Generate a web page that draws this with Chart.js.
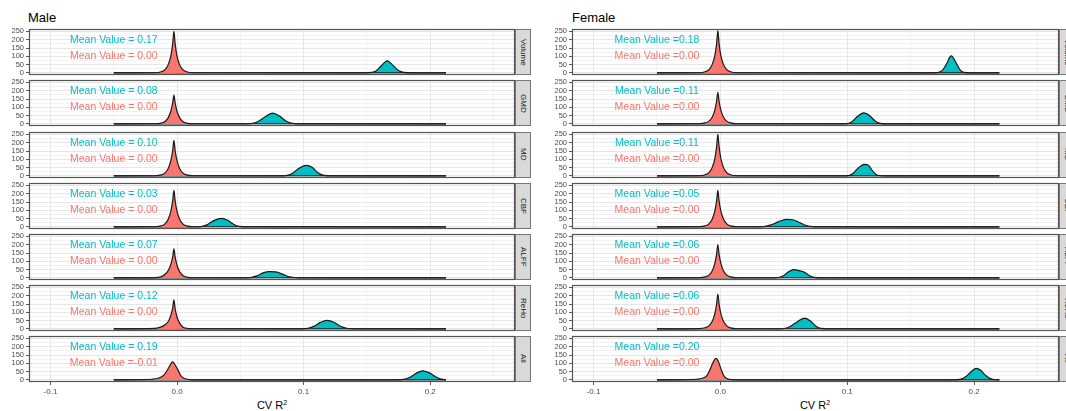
<!DOCTYPE html>
<html>
<head>
<meta charset="utf-8">
<script src="https://cdn.jsdelivr.net/npm/chart.js@4.4.1/dist/chart.umd.min.js"></script>
<style>
body { margin: 0; width: 1066px; height: 411px; overflow: hidden; background: #fff; position: relative;
       font-family: 'Liberation Sans', Arial, sans-serif; }
canvas { position: absolute; }
.title { position: absolute; font-size: 13px; line-height: 13px; color: #000; }
.strip { position: absolute; box-sizing: border-box; background: #d9d9d9; border: 1px solid #777;
         display: flex; align-items: center; justify-content: center; }
.strip span { writing-mode: vertical-rl; font-size: 8px; color: #1a1a1a; }
.xtitle { position: absolute; font-size: 11px; line-height: 11px; color: #000; transform: translateX(-50%); white-space: nowrap; }
.xtitle sup { font-size: 7px; vertical-align: 4px; line-height: 0; }
</style>
</head>
<body>
<div class="title" style="left:28px;top:11px">Male</div>
<div class="title" style="left:572px;top:11px">Female</div>
<div class="xtitle" style="left:272px;top:400px">CV R<sup>2</sup></div>
<div class="xtitle" style="left:815px;top:400px">CV R<sup>2</sup></div>
<script>
// facets and labels
const facetNames = ['Volume', 'GMD', 'MD', 'CBF', 'ALFF', 'ReHo', 'All'];
const maleRealText = ['Mean Value = 0.17', 'Mean Value = 0.08', 'Mean Value = 0.10', 'Mean Value = 0.03',
                      'Mean Value = 0.07', 'Mean Value = 0.12', 'Mean Value = 0.19'];
const maleNullText = ['Mean Value = 0.00', 'Mean Value = 0.00', 'Mean Value = 0.00', 'Mean Value = 0.00',
                      'Mean Value = 0.00', 'Mean Value = 0.00', 'Mean Value =-0.01'];
const femaleRealText = ['Mean Value =0.18', 'Mean Value =0.11', 'Mean Value =0.11', 'Mean Value =0.05',
                        'Mean Value =0.06', 'Mean Value =0.06', 'Mean Value =0.20'];
const femaleNullText = ['Mean Value =0.00', 'Mean Value =0.00', 'Mean Value =0.00', 'Mean Value =0.00',
                        'Mean Value =0.00', 'Mean Value =0.00', 'Mean Value =0.00'];

// axes
const xRange = [-0.117, 0.267];
const yRange = [-12.6, 264.6];
const xTicks = [-0.1, -0.05, 0, 0.05, 0.1, 0.15, 0.2, 0.25];
const xLabels = ['-0.1', '', '0.0', '', '0.1', '', '0.2', ''];
const yTicks = [0, 25, 50, 75, 100, 125, 150, 175, 200, 225, 250];
const yLabels = ['0', '', '50', '', '100', '', '150', '', '200', '', '250'];
const labelX = -0.05;
const labelY = [195, 100];

// density support (where the curves sit on zero)
const maleSpan = [-0.05, 0.2125];
const femaleSpan = [-0.05, 0.22];

// null (permutation) densities, male
const maleNull = [
  [[-0.0175,1],[-0.0125,7],[-0.0095,20],[-0.007,50],[-0.005,100],[-0.0035,175],[-0.0025,250],[-0.0015,175],[0,100],[0.002,50],[0.0045,20],[0.0075,7],[0.0125,1]],
  [[-0.0175,1],[-0.0125,5],[-0.0095,15],[-0.007,38],[-0.005,75],[-0.0035,125],[-0.0025,173],[-0.0015,125],[0,75],[0.002,38],[0.0045,15],[0.0075,5],[0.0125,1]],
  [[-0.0175,1],[-0.0125,6],[-0.0095,18],[-0.007,45],[-0.005,90],[-0.0035,150],[-0.0025,215],[-0.0015,150],[0,90],[0.002,45],[0.0045,18],[0.0075,6],[0.0125,1]],
  [[-0.0175,1],[-0.0125,6],[-0.0095,18],[-0.007,46],[-0.005,92],[-0.0035,155],[-0.0025,220],[-0.0015,155],[0,92],[0.002,46],[0.0045,18],[0.0075,6],[0.0125,1]],
  [[-0.0175,2],[-0.0125,8],[-0.0095,22],[-0.007,45],[-0.005,80],[-0.0035,125],[-0.0025,175],[-0.0015,125],[0,75],[0.002,38],[0.0045,15],[0.0075,5],[0.0125,1]],
  [[-0.0175,3],[-0.0125,12],[-0.0095,25],[-0.007,45],[-0.005,80],[-0.0035,125],[-0.0025,175],[-0.0015,120],[0,70],[0.002,35],[0.0045,12],[0.0075,4],[0.0125,1]],
  [[-0.03,1],[-0.02,4],[-0.015,10],[-0.011,25],[-0.008,55],[-0.0055,90],[-0.0035,109],[-0.0015,90],[0.001,55],[0.003,25],[0.006,8],[0.01,2],[0.016,0.5]]
];
// observed densities, male
const maleReal = [
  [[0.145,0],[0.152,2],[0.157,12],[0.161,40],[0.166,73],[0.171,42],[0.175,14],[0.179,3],[0.186,0]],
  [[0.05,0],[0.058,2],[0.064,15],[0.07,45],[0.0755,65],[0.081,47],[0.086,17],[0.091,3],[0.1,0]],
  [[0.08,0],[0.086,2],[0.091,15],[0.096,45],[0.102,64],[0.107,50],[0.111,20],[0.116,3],[0.123,0]],
  [[0.012,0],[0.019,2],[0.024,14],[0.029,38],[0.035,52],[0.04,40],[0.045,14],[0.049,3],[0.056,0]],
  [[0.05,0],[0.058,2],[0.063,12],[0.068,30],[0.073,38],[0.078,36],[0.084,20],[0.089,6],[0.094,1],[0.1,0]],
  [[0.095,0],[0.102,2],[0.108,15],[0.113,38],[0.1185,52],[0.124,40],[0.129,16],[0.134,4],[0.14,0]],
  [[0.172,0],[0.178,2],[0.184,16],[0.189,40],[0.194,55],[0.199,44],[0.204,20],[0.208,6],[0.211,2]]
];
// null densities, female
const femaleNull = [
  [[-0.017,1],[-0.012,7],[-0.009,20],[-0.0065,50],[-0.0045,100],[-0.003,175],[-0.002,255],[-0.001,175],[0.0005,100],[0.0025,50],[0.005,20],[0.008,7],[0.013,1]],
  [[-0.017,1],[-0.012,6],[-0.009,17],[-0.0065,40],[-0.0045,80],[-0.003,135],[-0.002,190],[-0.001,135],[0.0005,80],[0.0025,40],[0.005,17],[0.008,6],[0.013,1]],
  [[-0.017,1],[-0.012,7],[-0.009,20],[-0.0065,50],[-0.0045,100],[-0.003,175],[-0.002,250],[-0.001,175],[0.0005,100],[0.0025,50],[0.005,20],[0.008,7],[0.013,1]],
  [[-0.017,1],[-0.012,6],[-0.009,18],[-0.0065,46],[-0.0045,92],[-0.003,155],[-0.002,220],[-0.001,155],[0.0005,92],[0.0025,46],[0.005,18],[0.008,6],[0.013,1]],
  [[-0.017,1],[-0.012,6],[-0.009,17],[-0.0065,42],[-0.0045,85],[-0.003,140],[-0.002,201],[-0.001,140],[0.0005,85],[0.0025,42],[0.005,17],[0.008,6],[0.013,1]],
  [[-0.017,2],[-0.012,7],[-0.009,18],[-0.0065,44],[-0.0045,88],[-0.003,148],[-0.002,210],[-0.001,148],[0.0005,88],[0.0025,44],[0.005,18],[0.008,6],[0.013,1]],
  [[-0.028,1],[-0.019,4],[-0.014,10],[-0.0105,28],[-0.008,65],[-0.0055,110],[-0.0035,130],[-0.0015,110],[0.0005,65],[0.0025,28],[0.005,8],[0.009,2],[0.015,0.5]]
];
// observed densities, female
const femaleReal = [
  [[0.165,0],[0.171,2],[0.175,15],[0.178,50],[0.182,103],[0.186,60],[0.189,18],[0.192,3],[0.198,0]],
  [[0.093,0],[0.1,2],[0.104,15],[0.108,45],[0.113,67],[0.118,48],[0.122,17],[0.126,3],[0.132,0]],
  [[0.095,0],[0.101,2],[0.105,18],[0.109,50],[0.1135,70],[0.117,62],[0.12,30],[0.124,4],[0.13,0]],
  [[0.026,0],[0.034,2],[0.04,12],[0.046,32],[0.052,45],[0.057,43],[0.062,28],[0.067,10],[0.072,2],[0.08,0]],
  [[0.038,0],[0.045,2],[0.05,15],[0.054,38],[0.058,50],[0.062,44],[0.066,35],[0.07,15],[0.074,3],[0.08,0]],
  [[0.043,0],[0.05,2],[0.055,15],[0.061,45],[0.0665,65],[0.071,48],[0.075,18],[0.079,3],[0.086,0]],
  [[0.183,0],[0.189,3],[0.194,22],[0.198,52],[0.2017,70],[0.205,60],[0.209,28],[0.213,8],[0.217,1]]
];

const nullColor = '#F8766D';
const realColor = '#00BFC4';

const facetTop0 = 29.3, facetStep = 51.1, facetH = 46;

Chart.defaults.font.family = "'Liberation Sans', Arial, sans-serif";

const facetDecor = {
  id: 'facetDecor',
  afterDatasetsDraw(chart, args, opts) {
    const ctx = chart.ctx, a = chart.chartArea;
    const xs = chart.scales.x, ys = chart.scales.y;
    ctx.save();
    ctx.font = "10.5px 'Liberation Sans', Arial, sans-serif";
    ctx.textAlign = 'center';
    ctx.textBaseline = 'middle';
    opts.texts.forEach((t, k) => {
      ctx.fillStyle = t.color;
      ctx.fillText(t.text, xs.getPixelForValue(labelX), ys.getPixelForValue(labelY[k]));
    });
    ctx.strokeStyle = '#555';
    ctx.lineWidth = 1.2;
    ctx.strokeRect(a.left + 0.5, a.top + 0.5, a.width - 1, a.height - 1);
    ctx.restore();
  }
};

function curve(pts, span, color) {
  const data = [[span[0], 0]].concat(pts, [[span[1], 0]]).map(p => ({x: p[0], y: p[1]}));
  return {
    data: data,
    backgroundColor: color,
    borderColor: '#1a1a1a',
    borderWidth: 1.2,
    pointRadius: 0,
    fill: 'origin',
    cubicInterpolationMode: 'monotone'
  };
}

function drawFacet(side, i) {
  const top = facetTop0 + i * facetStep;
  const isBottom = i === facetNames.length - 1;
  const padTop = 8, padBot = isBottom ? 0 : 8, axisH = isBottom ? 20 : 0;
  const cv = document.createElement('canvas');
  cv.width = side.width;
  cv.height = Math.round(padTop + facetH + padBot + axisH);
  cv.style.left = side.left + 'px';
  cv.style.top = (top - padTop) + 'px';
  document.body.appendChild(cv);

  new Chart(cv, {
    type: 'line',
    data: {
      datasets: [
        curve(side.nulls[i], side.span, nullColor),
        curve(side.reals[i], side.span, realColor)
      ]
    },
    options: {
      responsive: false,
      animation: false,
      devicePixelRatio: 1,
      layout: { padding: { top: padTop, bottom: padBot, left: 0, right: 0 } },
      plugins: {
        legend: { display: false },
        tooltip: { enabled: false },
        facetDecor: {
          texts: [
            { text: side.realText[i], color: realColor },
            { text: side.nullText[i], color: nullColor }
          ]
        }
      },
      scales: {
        x: {
          type: 'linear',
          min: xRange[0],
          max: xRange[1],
          afterBuildTicks: s => { s.ticks = xTicks.map(v => ({ value: v })); },
          afterFit: s => { s.height = axisH; },
          border: { display: false },
          grid: {
            drawTicks: isBottom,
            tickLength: 3,
            color: '#e6e6e6',
            lineWidth: c => (c.index % 2 === 0 ? 1 : 0.5),
            tickColor: c => (c.index % 2 === 0 ? '#333' : 'rgba(0,0,0,0)'),
            tickWidth: 0.8
          },
          ticks: {
            display: isBottom,
            autoSkip: false,
            maxRotation: 0,
            padding: 2,
            color: '#4d4d4d',
            font: { size: 8 },
            callback: (v, idx) => xLabels[idx]
          }
        },
        y: {
          min: yRange[0],
          max: yRange[1],
          afterBuildTicks: s => { s.ticks = yTicks.map(v => ({ value: v })); },
          afterFit: s => { s.width = 29; },
          border: { display: false },
          grid: {
            tickLength: 3,
            color: '#e6e6e6',
            lineWidth: c => (c.index % 2 === 0 ? 1 : 0.5),
            tickColor: c => (c.index % 2 === 0 ? '#333' : 'rgba(0,0,0,0)'),
            tickWidth: 0.8
          },
          ticks: {
            autoSkip: false,
            padding: 2,
            color: '#4d4d4d',
            font: { size: 7.5 },
            callback: (v, idx) => yLabels[idx]
          }
        }
      }
    },
    plugins: [facetDecor]
  });

  const strip = document.createElement('div');
  strip.className = 'strip';
  strip.style.left = (side.left + side.width) + 'px';
  strip.style.top = top + 'px';
  strip.style.width = '16px';
  strip.style.height = facetH + 'px';
  strip.innerHTML = '<span>' + facetNames[i] + '</span>';
  document.body.appendChild(strip);
}

const male = { left: 0, width: 515, span: maleSpan, nulls: maleNull, reals: maleReal,
               realText: maleRealText, nullText: maleNullText };
const female = { left: 543, width: 516, span: femaleSpan, nulls: femaleNull, reals: femaleReal,
                 realText: femaleRealText, nullText: femaleNullText };

facetNames.forEach((n, i) => {
  drawFacet(male, i);
  drawFacet(female, i);
});
</script>
</body>
</html>
